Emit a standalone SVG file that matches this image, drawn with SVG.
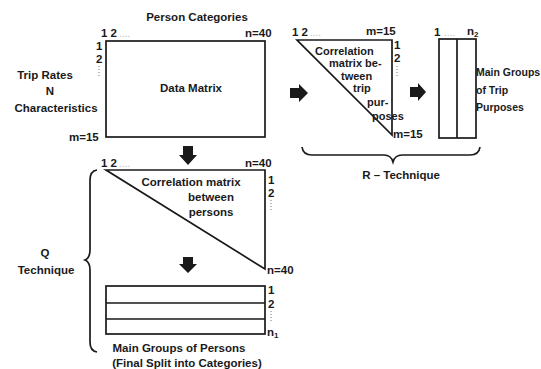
<svg xmlns="http://www.w3.org/2000/svg" width="541" height="369" viewBox="0 0 541 369">
<defs>
<style>
text{font-family:"Liberation Sans",Arial,sans-serif;font-size:11.5px;font-weight:bold;fill:#1a1a1a}
.t{font-size:11px}
.s{font-size:8px}
.dots{fill:#bbb;font-weight:normal;font-size:10px}
.ln{fill:none;stroke:#1a1a1a;stroke-width:1.7}
.thin{fill:none;stroke:#1a1a1a;stroke-width:1.3}
.dv{fill:none;stroke:#777;stroke-width:1;stroke-dasharray:1 2}
.arr{fill:#1a1a1a}
.m{text-anchor:middle}
</style>
</defs>
<rect width="541" height="369" fill="#fff"/>

<g id="data-matrix">
<rect class="ln" x="106" y="41" width="159" height="96"/>
<text class="m" x="197" y="21">Person Categories</text>
<text x="101" y="37">1 2</text><text class="dots" x="119" y="37">....</text>
<text x="245" y="37">n=40</text>
<text x="96" y="50">1</text>
<text x="96" y="63">2</text>
<path class="dv" d="M99 66V77"/>
<text class="m" x="45" y="79">Trip Rates</text>
<text class="m" x="50" y="95">N</text>
<text class="m" x="56" y="112">Characteristics</text>
<text x="69" y="141">m=15</text>
<text class="m" x="191" y="92">Data Matrix</text>
</g>

<g id="corr-trip">
<path class="ln" d="M297 40H392V135Z"/>
<text x="292" y="36">1 2</text><text class="dots" x="310" y="36">....</text>
<text x="366" y="35">m=15</text>
<text x="394" y="49">1</text>
<text x="394" y="62">2</text>
<path class="dv" d="M397 66V77"/>
<text x="393" y="138">m=15</text>
<text class="t" x="315" y="55">Correlation</text>
<text class="t" x="329" y="67">matrix be-</text>
<text class="t" x="341" y="80">tween</text>
<text class="t" x="353" y="92">trip</text>
<text class="t" x="367" y="106">pur-</text>
<text class="t" x="372" y="120">poses</text>
</g>

<g id="groups-trip">
<rect class="ln" x="439" y="39" width="37" height="99"/>
<path class="ln" d="M457 39V138"/>
<text x="434" y="36">1</text><text class="dots" x="444" y="36">....</text>
<text x="467" y="35">n<tspan class="s" dy="2">2</tspan></text>
<text x="476" y="76" style="font-size:10.5px">Main Groups</text>
<text x="476" y="94" style="font-size:10.5px">of Trip</text>
<text x="476" y="111" style="font-size:10.5px">Purposes</text>
</g>

<g id="corr-persons">
<path class="ln" d="M106 170H265V269Z"/>
<text x="101" y="167">1 2</text><text class="dots" x="119" y="167">....</text>
<text x="245" y="167">n=40</text>
<text x="268" y="184">1</text>
<text x="268" y="197">2</text>
<path class="dv" d="M271 200V211"/>
<text x="267" y="274">n=40</text>
<text class="m" x="191" y="186">Correlation matrix</text>
<text class="m" x="211" y="201">between</text>
<text class="m" x="211" y="216">persons</text>
</g>

<g id="groups-persons">
<rect class="ln" x="106" y="286" width="159" height="48"/>
<path class="thin" d="M106 303H265M106 319H265"/>
<text x="268" y="294">1</text>
<text x="268" y="308">2</text>
<path class="dv" d="M271 311V322"/>
<text x="267" y="336">n<tspan class="s" dy="2">1</tspan></text>
<text class="m" x="179" y="352">Main Groups of Persons</text>
<text class="m" x="187" y="367">(Final Split into Categories)</text>
</g>

<g id="r-technique">
<path class="ln" d="M302 147Q303 155 312 155H384Q391 155 393 162Q395 155 402 155H470Q479 155 480 147"/>
<text class="m" x="401" y="179">R – Technique</text>
</g>

<g id="q-technique">
<path class="ln" d="M97 170Q90 171 90 180V250Q90 258 85 260Q90 262 90 270V342Q90 351 97 352"/>
<text class="m" x="45" y="257">Q</text>
<text class="m" x="46" y="274">Technique</text>
</g>

<g id="connectors">
<path class="arr" d="M290 88H299V84L308 93L299 102V98H290Z"/>
<path class="arr" d="M410 87H418V83L426 92L418 101V97H410Z"/>
<path class="arr" d="M183 146V155H179L188 165L197 155H193V146Z"/>
<path class="arr" d="M183 257V264H179L188 273L197 264H193V257Z"/>
</g>
</svg>
